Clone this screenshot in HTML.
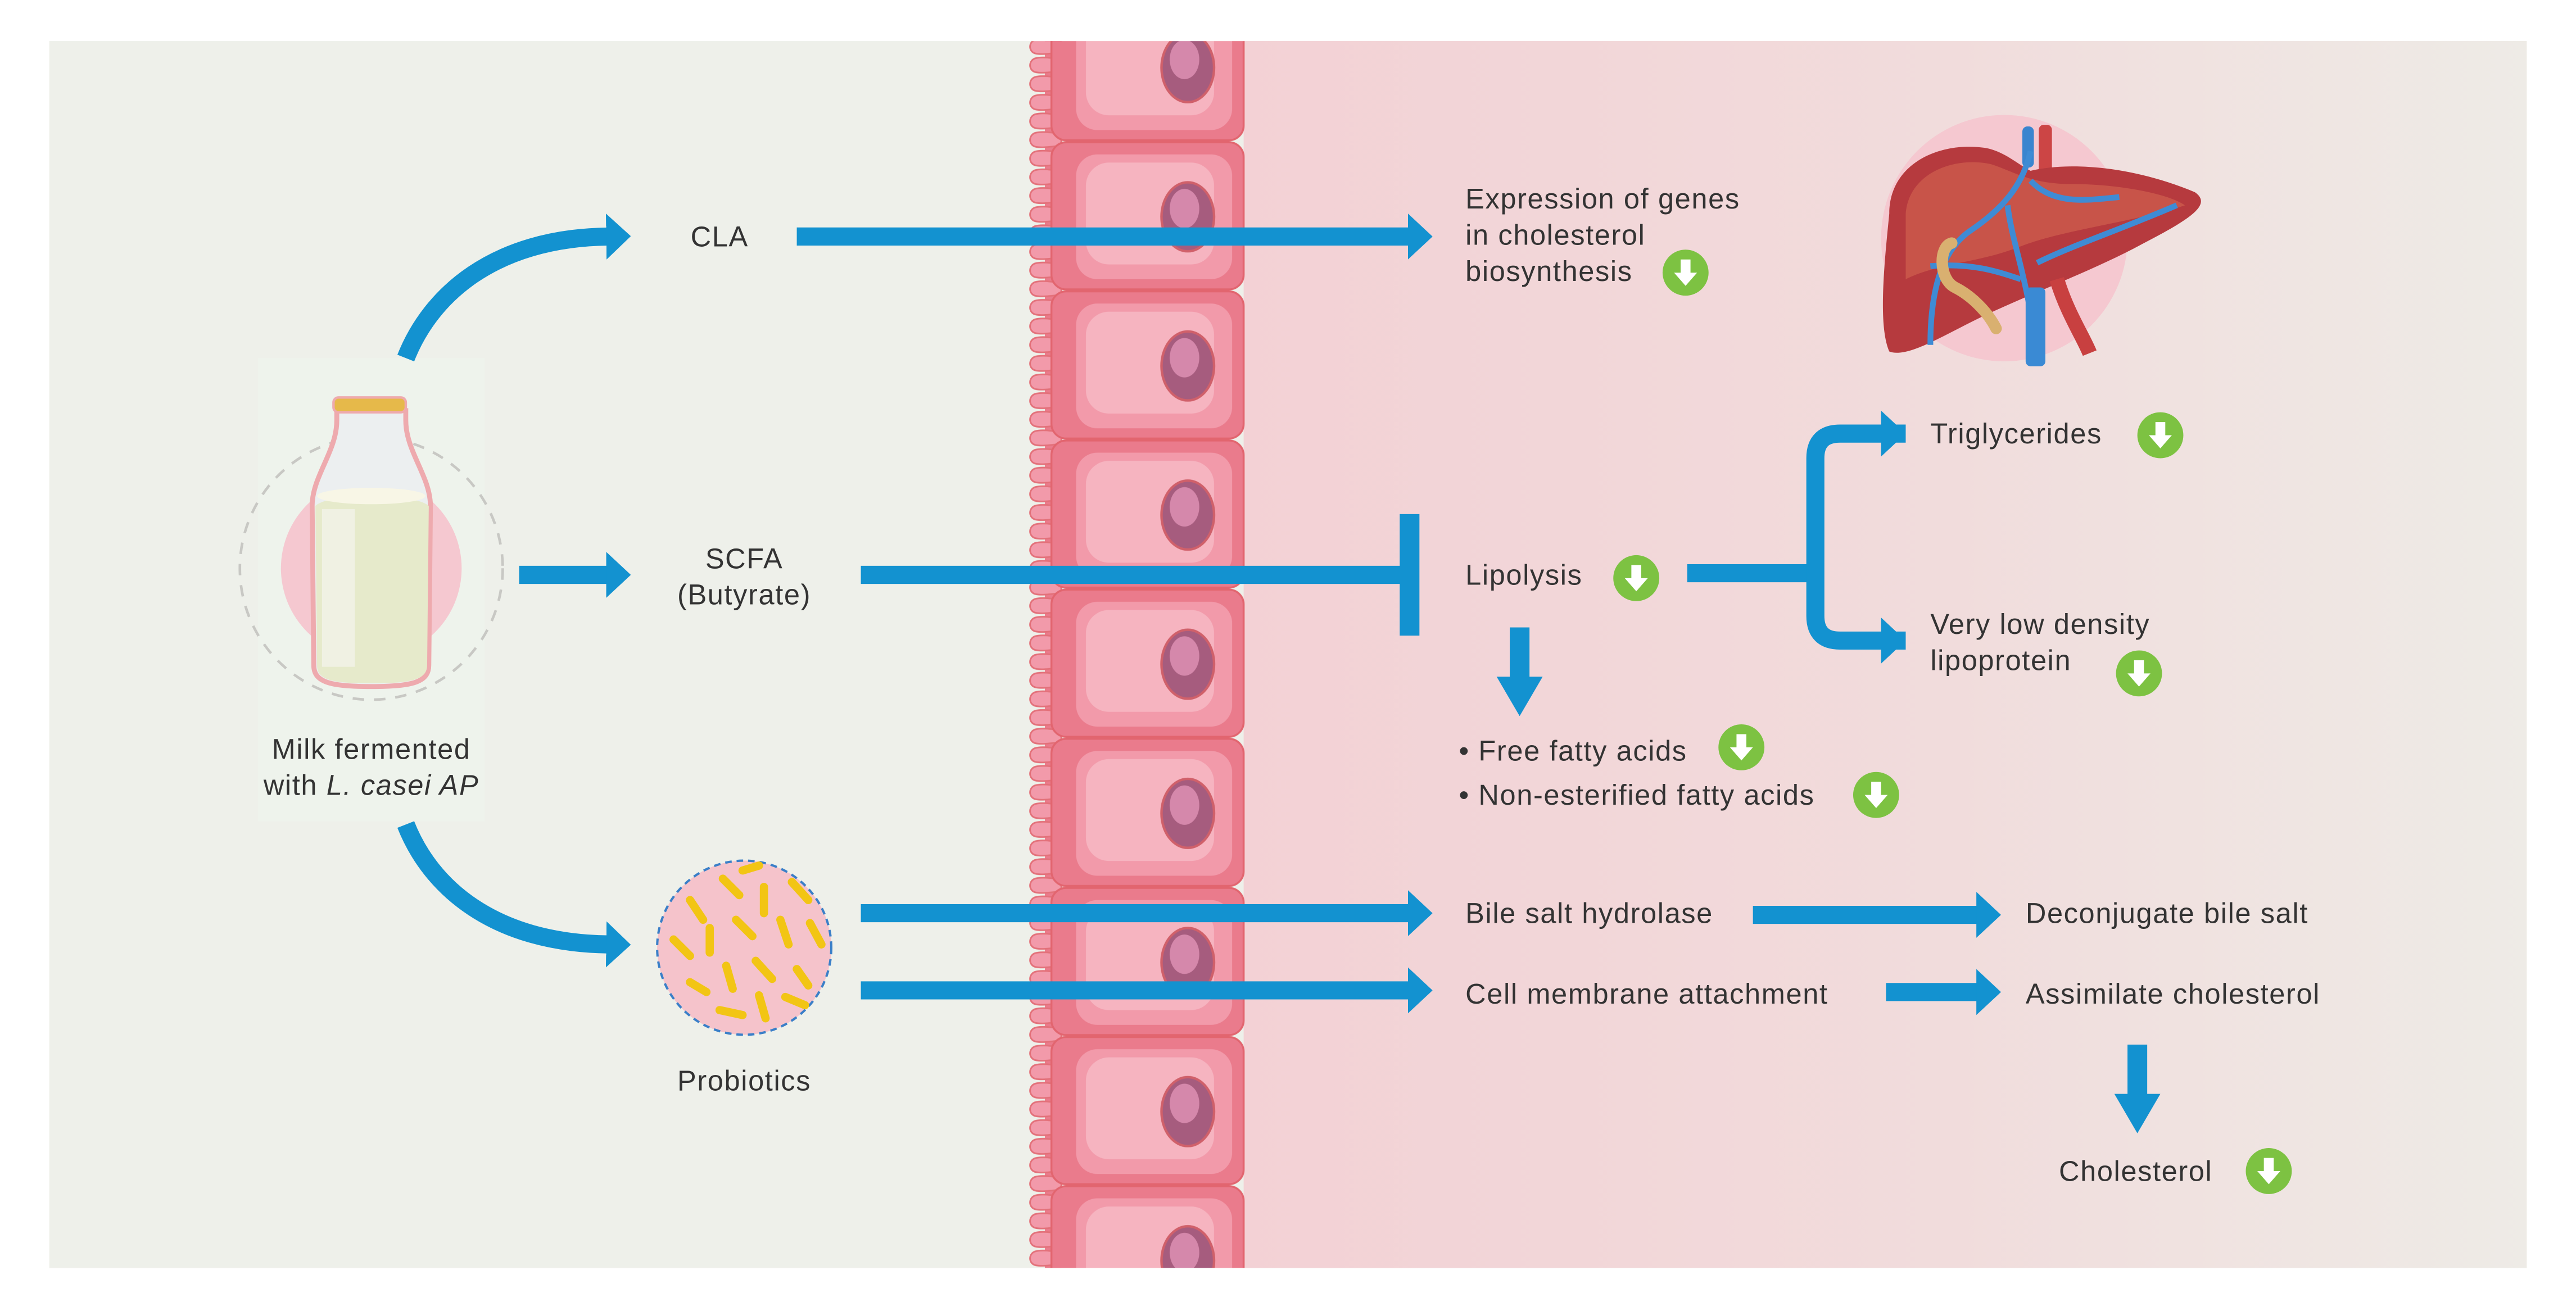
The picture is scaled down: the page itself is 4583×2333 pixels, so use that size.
<!DOCTYPE html>
<html><head><meta charset="utf-8"><style>
html,body{margin:0;padding:0;background:#fff}
svg{display:block}
text{font-family:"Liberation Sans","DejaVu Sans",sans-serif;fill:#333;font-size:17.3px;letter-spacing:0.55px}
</style></head><body>
<svg width="4583" height="2333" viewBox="0 0 1568 798.2" preserveAspectRatio="none" xmlns="http://www.w3.org/2000/svg">
<defs>
<linearGradient id="rg" x1="0" x2="1" y1="0" y2="0">
<stop offset="0" stop-color="#f3d1d5"/><stop offset="0.55" stop-color="#f1dcdc"/><stop offset="1" stop-color="#eeebe6"/>
</linearGradient>
<pattern id="cells" patternUnits="userSpaceOnUse" x="0" y="-4.8" width="1568" height="90.8">
<rect x="640" y="0.6" width="117" height="89.6" rx="9" fill="#ea7b8c" stroke="#e2656f" stroke-width="1.2"/>
<rect x="655" y="8" width="95" height="76" rx="13" fill="#f29aaa"/>
<rect x="661" y="13" width="78" height="62" rx="14" fill="#f6b4c0"/>
<ellipse cx="723" cy="46" rx="16" ry="21" fill="#a65c7e" stroke="#d0606a" stroke-width="1.5"/>
<ellipse cx="721" cy="41" rx="9" ry="12" fill="#d588ab"/>
</pattern>
<pattern id="villi" patternUnits="userSpaceOnUse" x="0" y="0" width="1568" height="11.35">
<path d="M646,2 C640,1.2 634,0.3 630,1.5 C626,3 626,8.5 630,9.8 C634,10.8 640,9.8 646,9.2 Z" fill="#f29aaa" stroke="#e3717a" stroke-width="1"/>
</pattern>
<clipPath id="pc"><rect x="30" y="25" width="1508" height="747"/></clipPath>
<marker id="ah" viewBox="0 0 15 28" refX="1" refY="14" markerWidth="15" markerHeight="28" markerUnits="userSpaceOnUse" orient="auto">
<path d="M0,0 L15,14 L0,28 Z" fill="#1392d0"/></marker>
<g id="gd"><circle r="14" fill="#7dc242"/><path d="M-3,-8 H3 V0 H7 L0,8 L-7,0 H-3 Z" fill="#fff"/></g>
</defs>

<rect x="30" y="25" width="1508" height="747" fill="#eef0ea"/>
<rect x="757" y="25" width="781" height="747" fill="url(#rg)"/>
<g clip-path="url(#pc)">
<rect x="636" y="25" width="10" height="747" fill="#ea7b8c"/>
<rect x="624" y="25" width="24" height="747" fill="url(#villi)"/>
<rect x="638" y="25" width="120" height="747" fill="url(#cells)"/>
</g>

<rect x="157" y="218" width="138" height="282" fill="#eef3ec"/>
<circle cx="226" cy="346" r="80" fill="none" stroke="#c8c8c4" stroke-width="1.6" stroke-dasharray="7,6"/>
<ellipse cx="226" cy="346" rx="55" ry="55" fill="#f5c8d0"/>
<path d="M205,250 L205,256 C205,275 190,290 190,308 L191,405 C191,415 200,418 226,418 C252,418 261,415 261,405 L262,308 C262,290 247,275 247,256 L247,250 Z" fill="#eceff0" stroke="#eeaaae" stroke-width="3"/>
<path d="M192,308 C200,300 252,300 261,308 L260,405 C260,414 250,416 226,416 C202,416 193,414 193,405 Z" fill="#e6eacb"/>
<ellipse cx="226" cy="302" rx="33" ry="5" fill="#f8f6e6"/>
<rect x="203" y="242" width="44" height="9" rx="3" fill="#e6b94a" stroke="#eeaaae" stroke-width="1.5"/>
<rect x="196" y="310" width="20" height="96" fill="#f3f4ec" opacity="0.7"/>
<text x="226" y="462" text-anchor="middle">Milk fermented</text>
<text x="226" y="484" text-anchor="middle">with <tspan font-style="italic">L. casei AP</tspan></text>

<path d="M247,218 C262,180 300,145 370,144" fill="none" stroke="#1392d0" stroke-width="11" marker-end="url(#ah)"/>
<path d="M247,502 C262,540 300,574 370,575" fill="none" stroke="#1392d0" stroke-width="11" marker-end="url(#ah)"/>

<text x="438" y="150" text-anchor="middle">CLA</text>
<line x1="485" y1="144" x2="858" y2="144" stroke="#1392d0" stroke-width="11" marker-end="url(#ah)"/>
<text x="892" y="127">Expression of genes</text>
<text x="892" y="149">in cholesterol</text>
<text x="892" y="171">biosynthesis</text>
<use href="#gd" x="1026" y="166"/>

<circle cx="1220" cy="145" r="75" fill="#f5c8d0"/>
<rect x="1241" y="76" width="8" height="30" rx="3" fill="#cc4545"/>
<rect x="1231" y="77" width="7" height="25" rx="3" fill="#3a85cf"/>
<path d="M1150,130 C1150,100 1180,86 1208,90 C1220,92 1228,100 1236,104 C1262,98 1300,102 1336,117 C1346,124 1336,132 1305,148 C1272,166 1232,180 1200,196 C1180,206 1160,218 1150,214 C1143,198 1147,160 1150,130 Z" fill="#b63a3e"/>
<path d="M1160,130 C1162,105 1190,95 1212,100 C1225,104 1236,112 1260,112 C1290,112 1320,118 1330,125 C1300,135 1255,140 1230,150 C1205,160 1180,160 1160,170 Z" fill="#d0604e" opacity="0.7"/>
<path d="M1252,170 C1258,190 1268,205 1272,215" stroke="#c84040" stroke-width="9" fill="none"/>
<path d="M1236,92 C1232,110 1222,125 1200,140 C1185,150 1175,170 1175,210 M1236,110 C1250,125 1270,122 1290,120 M1222,125 C1225,150 1235,170 1240,220 M1240,160 C1260,150 1290,140 1325,125 M1175,162 C1200,160 1215,165 1230,170" stroke="#3f8bd4" stroke-width="3.5" fill="none"/>
<rect x="1233" y="175" width="12" height="48" rx="3" fill="#3a8ad4"/>
<path d="M1188,148 C1180,150 1180,170 1190,175 C1200,180 1210,190 1215,200" stroke="#d9b070" stroke-width="7" fill="none" stroke-linecap="round"/>

<line x1="316" y1="350" x2="370" y2="350" stroke="#1392d0" stroke-width="11" marker-end="url(#ah)"/>
<text x="453" y="346" text-anchor="middle">SCFA</text>
<text x="453" y="368" text-anchor="middle">(Butyrate)</text>
<line x1="524" y1="350" x2="858" y2="350" stroke="#1392d0" stroke-width="11"/>
<rect x="852" y="313" width="12" height="74" fill="#1392d0"/>
<text x="892" y="356">Lipolysis</text>
<use href="#gd" x="996" y="352"/>
<line x1="1027" y1="349" x2="1105" y2="349" stroke="#1392d0" stroke-width="11"/>
<path d="M1160,264 H1120 Q1105,264 1105,279 V375 Q1105,390 1120,390 H1160" fill="none" stroke="#1392d0" stroke-width="11"/>
<path d="M1145,250 L1160,264 L1145,278 Z M1145,376 L1160,390 L1145,404 Z" fill="#1392d0"/>
<text x="1175" y="270">Triglycerides</text>
<use href="#gd" x="1315" y="265"/>
<text x="1175" y="386">Very low density</text>
<text x="1175" y="408">lipoprotein</text>
<use href="#gd" x="1302" y="410"/>
<rect x="919" y="382" width="12" height="32" fill="#1392d0"/>
<path d="M911,412 L939,412 L925,436 Z" fill="#1392d0"/>
<text x="888" y="463">• Free fatty acids</text>
<use href="#gd" x="1060" y="455"/>
<text x="888" y="490">• Non-esterified fatty acids</text>
<use href="#gd" x="1142" y="484"/>

<circle cx="453" cy="577" r="53" fill="#f5c3cb" stroke="#3a7fc8" stroke-width="1.4" stroke-dasharray="4,3"/>
<g stroke="#f2c514" stroke-width="5" stroke-linecap="round">
<line x1="420" y1="548" x2="428" y2="560"/><line x1="440" y1="535" x2="450" y2="545"/><line x1="465" y1="540" x2="465" y2="556"/><line x1="482" y1="537" x2="492" y2="548"/>
<line x1="410" y1="572" x2="420" y2="582"/><line x1="432" y1="565" x2="432" y2="580"/><line x1="448" y1="560" x2="458" y2="570"/><line x1="475" y1="560" x2="480" y2="575"/><line x1="493" y1="562" x2="500" y2="575"/>
<line x1="420" y1="598" x2="430" y2="604"/><line x1="442" y1="588" x2="446" y2="602"/><line x1="460" y1="585" x2="470" y2="596"/><line x1="485" y1="590" x2="492" y2="600"/>
<line x1="438" y1="615" x2="452" y2="618"/><line x1="462" y1="606" x2="466" y2="620"/><line x1="478" y1="607" x2="490" y2="612"/><line x1="452" y1="530" x2="462" y2="527"/>
</g>
<text x="453" y="664" text-anchor="middle">Probiotics</text>
<line x1="524" y1="556" x2="858" y2="556" stroke="#1392d0" stroke-width="11" marker-end="url(#ah)"/>
<line x1="524" y1="603" x2="858" y2="603" stroke="#1392d0" stroke-width="11" marker-end="url(#ah)"/>
<text x="892" y="562">Bile salt hydrolase</text>
<line x1="1067" y1="557" x2="1204" y2="557" stroke="#1392d0" stroke-width="11" marker-end="url(#ah)"/>
<text x="1233" y="562">Deconjugate bile salt</text>
<text x="892" y="611">Cell membrane attachment</text>
<line x1="1148" y1="604" x2="1204" y2="604" stroke="#1392d0" stroke-width="11" marker-end="url(#ah)"/>
<text x="1233" y="611">Assimilate cholesterol</text>
<rect x="1295" y="636" width="12" height="32" fill="#1392d0"/>
<path d="M1287,666 L1315,666 L1301,690 Z" fill="#1392d0"/>
<text x="1300" y="719" text-anchor="middle">Cholesterol</text>
<use href="#gd" x="1381" y="713"/>
</svg>
</body></html>
